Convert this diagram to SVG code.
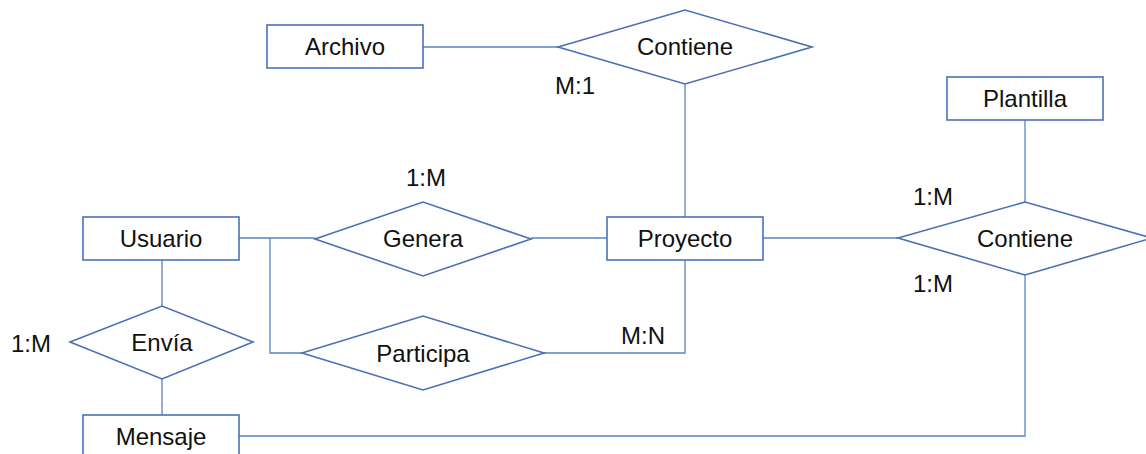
<svg xmlns="http://www.w3.org/2000/svg" width="1146" height="454" viewBox="0 0 1146 454">
<style>
.ent{fill:#fff;stroke:#4a72b8;stroke-width:1.6}
.rel{fill:#fff;stroke:#4a6fb5;stroke-width:1.6}
.con{fill:none;stroke:#5b82c8;stroke-width:1.3}
text{font-family:"Liberation Sans",Arial,sans-serif;font-size:24px;fill:#111;text-anchor:middle}
</style>
<rect width="1146" height="454" fill="#fff"/>
<g id="connectors">
<path class="con" d="M423,47 H558"/>
<path class="con" d="M685,84 V217"/>
<path class="con" d="M239,238 H315"/>
<path class="con" d="M531,238 H607"/>
<path class="con" d="M270,238 V353 H302"/>
<path class="con" d="M544,353 H685 V260"/>
<path class="con" d="M763,238 H898"/>
<path class="con" d="M1025,120 V202"/>
<path class="con" d="M1025,275 V436 H239"/>
<path class="con" d="M162,260 V306"/>
<path class="con" d="M162,379 V415"/>
</g>
<g id="archivo"><rect class="ent" x="267" y="25" width="156" height="43"/><text x="345" y="55">Archivo</text></g>
<g id="contiene1"><polygon class="rel" points="558,47 685,10 812,47 685,84"/><text x="685" y="55">Contiene</text></g>
<g id="usuario"><rect class="ent" x="83" y="217" width="156" height="43"/><text x="161" y="247">Usuario</text></g>
<g id="genera"><polygon class="rel" points="315,239 423,202 531,239 423,276"/><text x="423" y="247">Genera</text></g>
<g id="proyecto"><rect class="ent" x="607" y="217" width="156" height="43"/><text x="685" y="247">Proyecto</text></g>
<g id="plantilla"><rect class="ent" x="947" y="77" width="156" height="43"/><text x="1025" y="107">Plantilla</text></g>
<g id="contiene2"><polygon class="rel" points="898,238 1025,202 1152,238 1025,275"/><text x="1025" y="247">Contiene</text></g>
<g id="envia"><polygon class="rel" points="70,342 162,306 253,342 162,379"/><text x="162" y="351">Envía</text></g>
<g id="participa"><polygon class="rel" points="302,353 423,316 544,353 423,390"/><text x="423" y="362">Participa</text></g>
<g id="mensaje"><rect class="ent" x="83" y="415" width="156" height="43"/><text x="161" y="445">Mensaje</text></g>
<g id="labels">
<text x="575" y="94">M:1</text>
<text x="426" y="186">1:M</text>
<text x="31" y="352">1:M</text>
<text x="643" y="344">M:N</text>
<text x="933" y="205">1:M</text>
<text x="933" y="292">1:M</text>
</g>
</svg>
